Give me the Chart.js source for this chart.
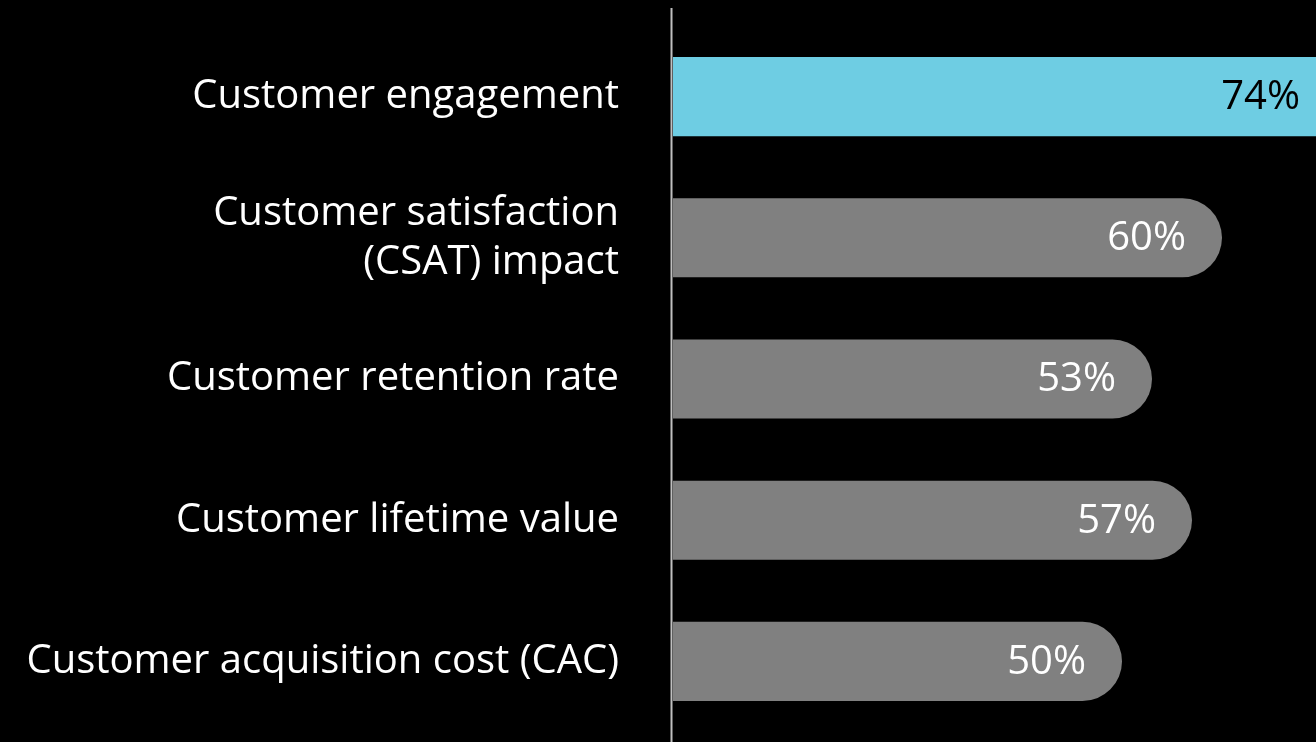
<!DOCTYPE html>
<html>
<head>
<meta charset="utf-8">
<script src="https://cdn.jsdelivr.net/npm/chart.js@4/dist/chart.umd.min.js"></script>
<style>
	html, body { margin: 0; padding: 0; background: #000; overflow: hidden; }
	canvas { display: block; background: #000; }
</style>
</head>
<body>
<canvas id="chart" width="1316" height="742"></canvas>
<script>
const categories = [
	'Customer engagement',
	['Customer satisfaction', '(CSAT) impact'],
	'Customer retention rate',
	'Customer lifetime value',
	'Customer acquisition cost (CAC)'
];
const values = [74, 60, 53, 57, 50];
const barColors = ['#6ecde3', '#808080', '#808080', '#808080', '#808080'];
const valueColors = ['#000000', '#ffffff', '#ffffff', '#ffffff', '#ffffff'];

// draws the vertical axis line across the whole height and the % labels inside the bars
const barExtras = {
	id: 'barExtras',
	afterDatasetsDraw (chart)
	{
		const ctx = chart.ctx;
		const area = chart.chartArea;
		ctx.save();
		ctx.strokeStyle = '#bfbfbf';
		ctx.lineWidth = 2;
		ctx.beginPath();
		ctx.moveTo(area.left - 1.5, 8);
		ctx.lineTo(area.left - 1.5, chart.height);
		ctx.stroke();

		ctx.font = '40px "Open Sans"';
		ctx.textAlign = 'right';
		ctx.textBaseline = 'middle';
		chart.getDatasetMeta(0).data.forEach((bar, i) => {
			// the first bar runs off the edge, keep its label on screen
			const x = Math.min(bar.x - 36, area.right - 16);
			ctx.fillStyle = valueColors[i];
			ctx.fillText(values[i] + '%', x, bar.y + 1);
		});
		ctx.restore();
	}
};

const ctx = document.getElementById('chart').getContext('2d');
const chart = new Chart(ctx, {
	type: 'bar',
	data: {
		labels: categories,
		datasets: [
			{
				data: values,
				backgroundColor: barColors,
				borderWidth: 0,
				borderRadius: 40,
				borderSkipped: 'start',
				barPercentage: 0.56,
				categoryPercentage: 1
			}
		]
	},
	options: {
		indexAxis: 'y',
		responsive: false,
		animation: false,
		layout: {
			padding: { top: 26, bottom: 10, left: 0, right: 0 }
		},
		plugins: {
			legend: { display: false },
			tooltip: { enabled: false }
		},
		scales: {
			x: {
				display: false,
				min: 5.1,
				max: 69.4
			},
			y: {
				afterFit (scale)
				{
					scale.width = 673;
					scale.paddingTop = 0;
					scale.paddingBottom = 0;
				},
				grid: { display: false, drawTicks: false },
				border: { display: false },
				ticks: {
					color: '#ffffff',
					padding: 54,
					font: { family: '"Open Sans"', size: 40, lineHeight: 1.22 }
				}
			}
		}
	},
	plugins: [barExtras]
});
</script>
</body>
</html>
